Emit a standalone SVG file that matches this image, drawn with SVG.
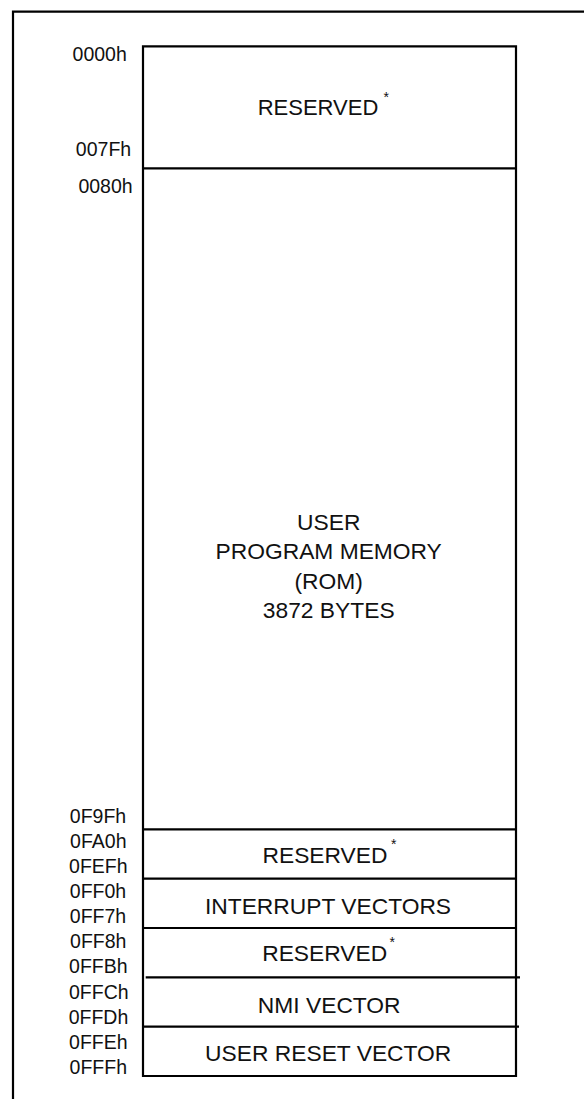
<svg xmlns="http://www.w3.org/2000/svg" width="584" height="1099" viewBox="0 0 584 1099">
<style>
  .ln { stroke: #000; stroke-width: 2.2; fill: none; }
  .addr { font-family: "Liberation Sans", Arial, sans-serif; font-size: 19.5px; fill: #111; text-anchor: middle; }
  .lbl { font-family: "Liberation Sans", Arial, sans-serif; font-size: 22.8px; fill: #111; text-anchor: middle; }
  .ast { font-family: "Liberation Sans", Arial, sans-serif; font-size: 14px; fill: #111; }
</style>
<rect width="584" height="1099" fill="#fff"/>
<g id="frame">
  <path class="ln" d="M13,1099 V11.7 H584"/>
  <path class="ln" d="M143,1076 V46.3 H516 V1076 Z"/>
</g>
<g id="connectors">
  <line class="ln" x1="143" y1="168.3" x2="516" y2="168.3"/>
  <line class="ln" x1="143" y1="829.3" x2="516" y2="829.3"/>
  <line class="ln" x1="143" y1="878.7" x2="516" y2="878.7"/>
  <line class="ln" x1="143" y1="928" x2="516" y2="928"/>
  <line class="ln" x1="145.7" y1="977.3" x2="520" y2="977.3"/>
  <line class="ln" x1="143" y1="1026.7" x2="519" y2="1026.7"/>
</g>
<g id="reserved-top">
  <text class="lbl" x="318" y="114.5" style="font-size:22px">RESERVED</text>
  <text class="ast" x="383.5" y="102">*</text>
  <text class="addr" x="99.7" y="60.6">0000h</text>
  <text class="addr" x="103.5" y="156">007Fh</text>
</g>
<g id="user-rom">
  <text class="lbl" x="328.7" y="530">USER</text>
  <text class="lbl" x="328.7" y="559">PROGRAM MEMORY</text>
  <text class="lbl" x="328.7" y="588.5">(ROM)</text>
  <text class="lbl" x="328.7" y="618">3872 BYTES</text>
  <text class="addr" x="105.5" y="192.5">0080h</text>
  <text class="addr" x="98" y="823">0F9Fh</text>
</g>
<g id="reserved-fa0">
  <text class="lbl" x="325" y="863">RESERVED</text>
  <text class="ast" x="391" y="849">*</text>
  <text class="addr" x="98.3" y="848.3">0FA0h</text>
  <text class="addr" x="98.3" y="873.3">0FEFh</text>
</g>
<g id="interrupt-vectors">
  <text class="lbl" x="328" y="913.5">INTERRUPT VECTORS</text>
  <text class="addr" x="98" y="897.7">0FF0h</text>
  <text class="addr" x="98" y="922.7">0FF7h</text>
</g>
<g id="reserved-ff8">
  <text class="lbl" x="324.7" y="960.5">RESERVED</text>
  <text class="ast" x="389.5" y="946.5">*</text>
  <text class="addr" x="98.3" y="948">0FF8h</text>
  <text class="addr" x="98.3" y="973.3">0FFBh</text>
</g>
<g id="nmi-vector">
  <text class="lbl" x="329.2" y="1013.3">NMI VECTOR</text>
  <text class="addr" x="98.8" y="999">0FFCh</text>
  <text class="addr" x="98.5" y="1024">0FFDh</text>
</g>
<g id="user-reset-vector">
  <text class="lbl" x="328.2" y="1060.6">USER RESET VECTOR</text>
  <text class="addr" x="98.3" y="1049">0FFEh</text>
  <text class="addr" x="98.3" y="1074">0FFFh</text>
</g>
</svg>
